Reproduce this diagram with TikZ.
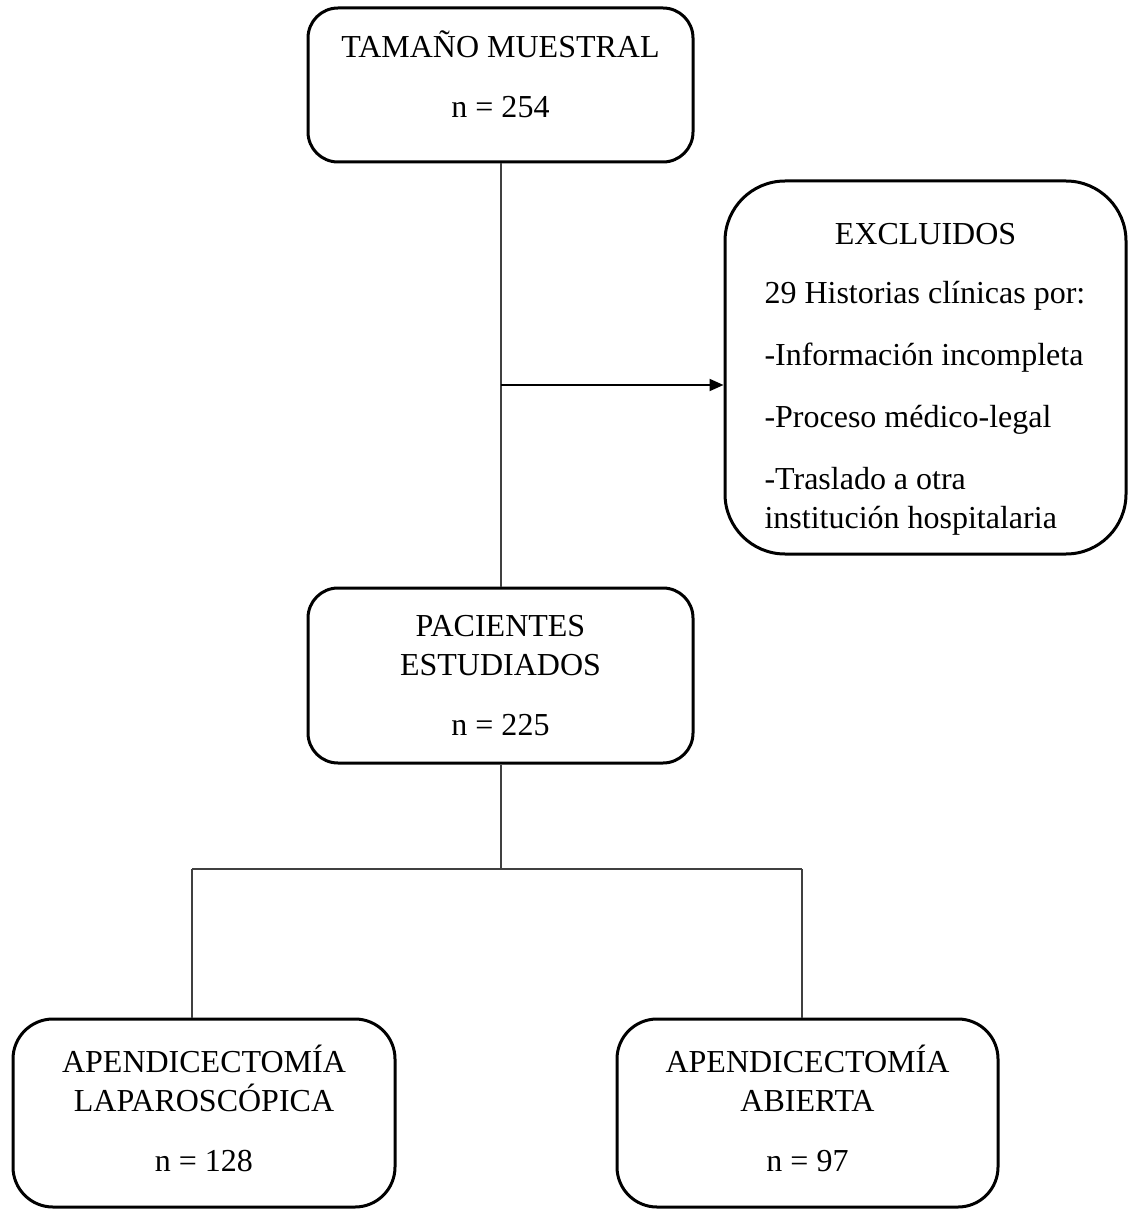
\documentclass[tikz,border=0pt]{standalone}
\usepackage{fontspec}
\setmainfont{Liberation Serif}
\usetikzlibrary{arrows.meta}

\begin{document}
\begin{tikzpicture}[x=0.5pt,y=-0.5pt,
	caja/.style={draw,line width=1.5pt,rounded corners=15pt,align=center,inner sep=0pt,font=\fontsize{16}{19.5}\selectfont},
	linea/.style={line width=1pt,black!75}]
	\useasboundingbox (0,0) rectangle (1131,1209);
	\node[caja,minimum width=192.5pt,minimum height=77pt,text depth=11pt] (tam) at (500.5,85) {TAMAÑO MUESTRAL\\[10.5pt] n = 254};
	\node[caja,rounded corners=30pt,minimum width=200.5pt,minimum height=186.5pt,align=left] (exc) at (925.5,367.5) {\rule{0pt}{22pt}\makebox[161pt]{EXCLUIDOS}\\[10pt] 29 Historias clínicas por:\\[11.5pt] -Información incompleta\\[11.5pt] -Proceso médico-legal\\[11.5pt] -Traslado a otra\\ institución hospitalaria};
	\node[caja,minimum width=192.5pt,minimum height=87.5pt] (pac) at (500.5,675.5) {PACIENTES\\ ESTUDIADOS\\[10.5pt] n = 225};
	\node[caja,rounded corners=20pt,minimum width=191pt,minimum height=94pt,text depth=5pt] (lap) at (204,1113) {APENDICECTOMÍA\\ LAPAROSCÓPICA\\[10.5pt] n = 128};
	\node[caja,rounded corners=20pt,minimum width=190.5pt,minimum height=94pt,text depth=5pt] (abi) at (807.5,1113) {APENDICECTOMÍA\\ ABIERTA\\[10.5pt] n = 97};
	% ramas
	\coordinate (ramaexc) at (500.5,385);
	\coordinate (ramabaja) at (500.5,869);
	\coordinate (izq) at (192,869);
	\coordinate (der) at (802,869);
	\draw[linea] (tam.south) -- (pac.north);
	\draw[line width=1pt,-{Triangle[length=7pt,width=6pt]}] (ramaexc) -- (ramaexc -| exc.west);
	\draw[linea] (pac.south) -- (ramabaja);
	\draw[linea] (izq) -- (der);
	\draw[linea] (izq) -- (izq |- lap.north);
	\draw[linea] (der) -- (der |- abi.north);
\end{tikzpicture}
\end{document}
